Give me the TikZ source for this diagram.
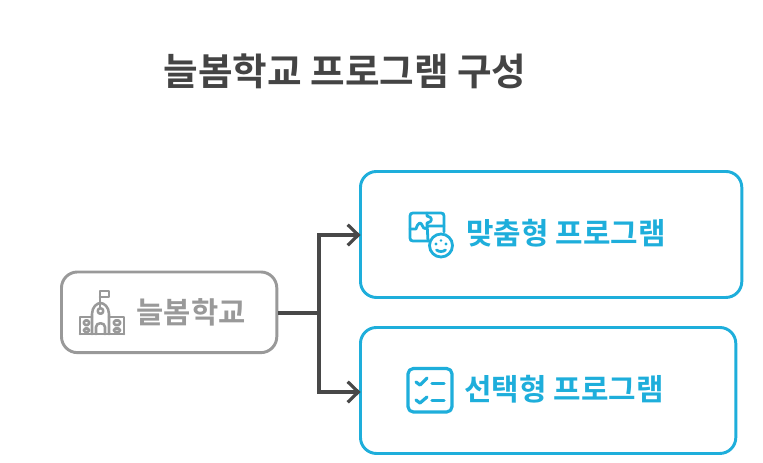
\documentclass[tikz,border=0pt]{standalone}
\usepackage{fontspec}
\setmainfont{Noto Sans CJK KR}[BoldFont={Noto Sans CJK KR Bold}]
\usetikzlibrary{arrows.meta}
\definecolor{ttl}{HTML}{444444}
\definecolor{gry}{HTML}{999999}
\definecolor{blu}{HTML}{1EAEDB}
\definecolor{lnk}{HTML}{484848}
\tikzset{
 x=0.75pt,y=-0.75pt,
 card/.style={draw=#1,line width=2.2pt,rounded corners=12pt,fill=white,inner sep=0pt,anchor=north west},
 lab/.style={inner sep=0pt,font=\bfseries\fontsize{#1}{#1}\selectfont},
 conn/.style={draw=lnk,line width=2.4pt},
 conntip/.style={shorten >=-1.2pt,-{Straight Barb[length=8pt,width=15.5pt,line width=2.4pt]}},
 ico/.style={draw=#1,line cap=round,line join=round},
}
\begin{document}
\begin{tikzpicture}
\useasboundingbox (0,0) rectangle (763,462);
\node[lab=28.2pt,text=ttl,anchor=center] (title) at (345,71) {늘봄학교 프로그램 구성};
\node[card=gry,minimum width=161.5pt,minimum height=60.5pt] (school) at (60,270.5) {};
\node[card=blu,minimum width=286pt,minimum height=94.5pt] (custom) at (359,170) {};
\node[card=blu,minimum width=281.5pt,minimum height=94.5pt] (choice) at (359,326) {};
\node[lab=22.2pt,text=gry,anchor=center] (schooltxt) at (191,312) {늘봄학교};
\node[lab=22.4pt,text=blu,anchor=center] (customtxt) at (566,233) {맞춤형 프로그램};
\node[lab=22.4pt,text=blu,anchor=center] (choicetxt) at (564,389) {선택형 프로그램};
\coordinate (j) at (319,313);
\draw[conn] (school.east |- j) -- (j);
\draw[conn,conntip] (j) |- (custom.west |- 0,235);
\draw[conn,conntip] (j) |- (choice.west |- 0,392);
% school icon
\begin{scope}[ico=gry,line width=1.9pt]
\draw (100,308) -- (100,291) -- (109,291) -- (109,297) -- (100,297);
\draw (92,334) -- (92,314) .. controls (92,307) and (97,303) .. (100.5,303) .. controls (104,303) and (109,307) .. (109,314) -- (109,334);
\draw (100.5,311) circle (2.8);
\draw (80,334) -- (80,317) -- (92,317) (109,317) -- (124,317) -- (124,334);
\draw (80,334) -- (124,334);
\draw (96,334) -- (96,327) .. controls (96,322) and (105,322) .. (105,327) -- (105,334);
\draw[rounded corners=1pt] (84,320.5) rectangle (89,325) (84,328.5) rectangle (89,332) (114,320.5) rectangle (120,325) (114,328.5) rectangle (120,332);
\end{scope}
% puzzle icon
\begin{scope}[ico=blu,line width=2.1pt]
\draw (430,241) -- (413,241) .. controls (411,241) and (410,240) .. (410,238) -- (410,216) .. controls (410,214) and (411,213) .. (413,213) -- (441,213) .. controls (443,213) and (444,214) .. (444,216) -- (444,232);
\draw (410,229) -- (416,229) .. controls (418,222) and (421,222) .. (422,225) .. controls (424,230) and (426,229) .. (428,226) -- (444,226);
\draw (427,213) -- (427,216) .. controls (433,217) and (433,222) .. (427,223) -- (428,241);
\draw (441,245.5) circle (11.5);
\draw (436.5,250) .. controls (439,252) and (443,252) .. (445.5,250);
\fill[blu,draw=none] (436,244) circle (1.6) (446,244) circle (1.6) (441,240.5) circle (1.4);
\end{scope}
% checklist icon
\begin{scope}[ico=blu,line width=2.4pt]
\draw[rounded corners=4pt] (408,368.5) rectangle (452,412);
\draw (416,382) -- (420,385) -- (427,378);
\draw (416,400) -- (420,403) -- (427,397);
\draw (432,383.5) -- (444,383.5);
\draw (432,400.5) -- (444,400.5);
\end{scope}
\end{tikzpicture}
\end{document}
